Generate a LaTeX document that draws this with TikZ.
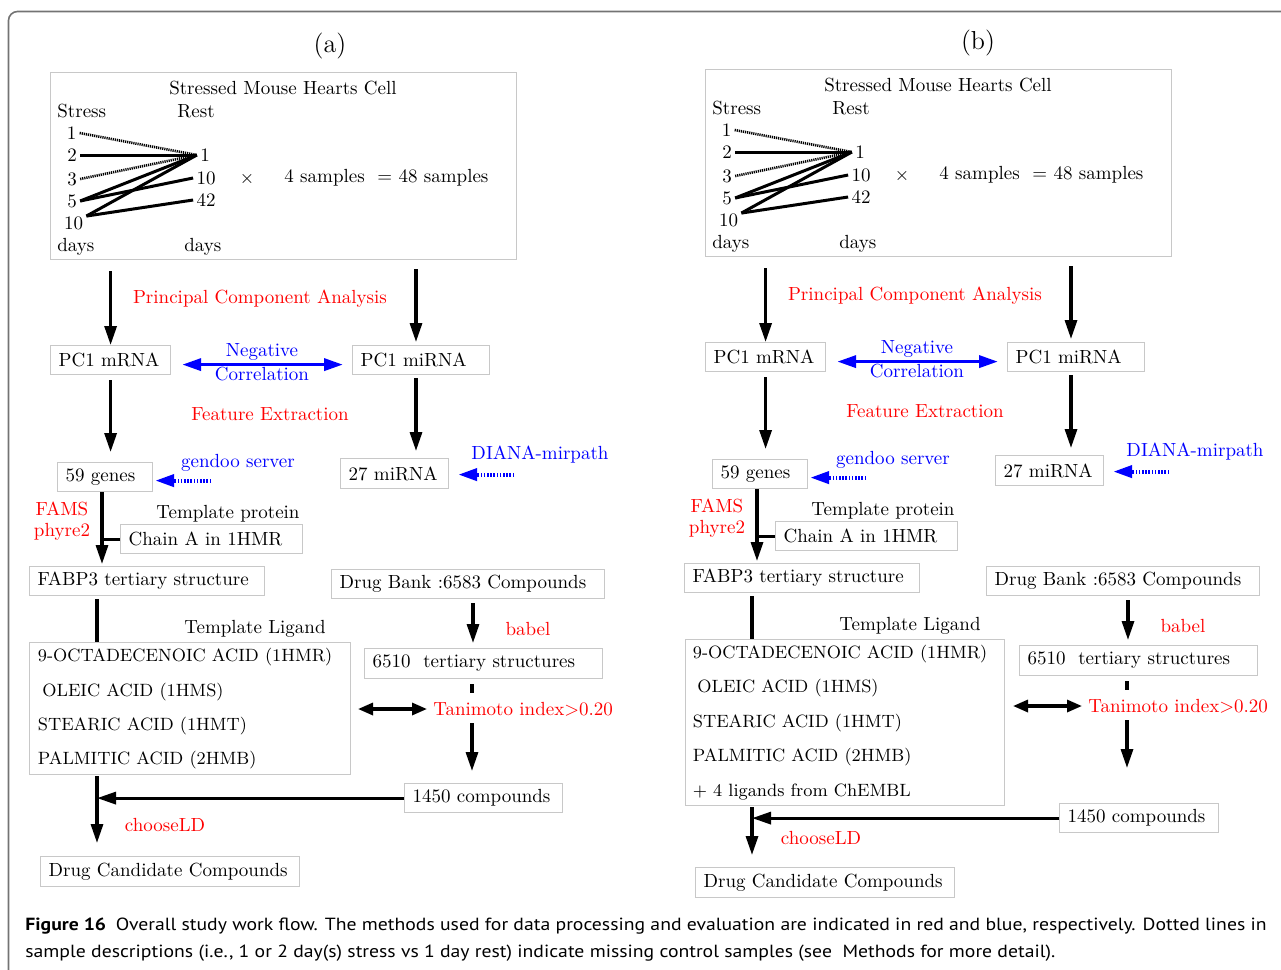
\documentclass[tikz,border=0pt]{standalone}
\usepackage{fontspec}
\newfontfamily\capfont{PT Sans}
\usepackage{xcolor}
\usepackage{tikz}
\usetikzlibrary{arrows.meta, positioning, calc}
\definecolor{boxgray}{RGB}{200,200,200}
\definecolor{framegray}{RGB}{115,115,115}
\definecolor{methodred}{RGB}{255,0,0}
\definecolor{evalblue}{RGB}{0,0,255}
\newcommand\flowfont{\fontsize{9.5}{11.4}\selectfont}

\tikzset{
  box/.style={draw=boxgray, line width=0.6pt, inner xsep=4pt, inner ysep=0pt, minimum height=14.5pt, align=left, anchor=north west, font=\flowfont},
  txt/.style={font=\flowfont, inner sep=0pt},
  ligtxt/.style={txt, font=\fontsize{8.9}{10.7}\selectfont, anchor=west},
  method/.style={txt, text=methodred},
  evaluation/.style={txt, text=evalblue},
  num/.style={font=\flowfont, inner xsep=1.5pt, inner ysep=0pt},
  pair/.style={line width=1.5pt},
  missing/.style={line width=1.3pt, dash pattern=on 0.6pt off 0.45pt},
  stem/.style={line width=1.6pt},
  arr/.style={line width=1.6pt, -{Triangle[length=9.5pt,width=6pt]}},
  corr/.style={evalblue, line width=1.8pt, {Triangle[length=9.5pt,width=6pt]}-{Triangle[length=9.5pt,width=6pt]}},
  simil/.style={line width=1.6pt, {Triangle[length=7.5pt,width=6pt]}-{Triangle[length=7.5pt,width=6pt]}},
  lookup/.style={evalblue, line width=2pt, dash pattern=on 0.8pt off 0.8pt, -{Triangle[length=9.5pt,width=6pt]}},
  caption/.style={anchor=base west, inner sep=0pt, font=\capfont\fontsize{8.8}{10}\selectfont},
}

% upper part of one work flow, #1 = name prefix
\newcommand\flowpanel[1]{%
  % Sample box
  \node[box, minimum width=233pt, minimum height=93.5pt] (#1cell) at (50,72) {};
  \node[txt] (#1title) at (283,88) {Stressed Mouse Hearts Cell};
  \node[txt, anchor=west] (#1stress) at (57,111) {Stress};
  \node[txt, anchor=west] (#1rest) at (177,111) {Rest};
  \node[num] (#1s1) at (71.5,133) {1};
  \node[num] (#1s2) at (72,155) {2};
  \node[num] (#1s3) at (72,179) {3};
  \node[num] (#1s5) at (72,201) {5};
  \node[num] (#1s10) at (73.5,223) {10};
  \node[num] (#1r1) at (205,155) {1};
  \node[num] (#1r10) at (206,178) {10};
  \node[num] (#1r42) at (206,200) {42};
  \node[txt, anchor=west] (#1sdays) at (57,247) {days};
  \node[txt, anchor=west] (#1rdays) at (184,247) {days};
  \node[txt] (#1times) at (247,179) {$\times$};
  \node[txt, anchor=west] (#1total) at (284,178) {4 samples\ \ = 48 samples};
  \draw[missing] (#1s1.east) -- (#1r1.west);
  \draw[pair] (#1s2.east) -- (#1r1.west);
  \draw[missing] (#1s3.east) -- (#1r1.west);
  \draw[pair] (#1s5.east) -- (#1r1.west);
  \draw[pair] (#1s5.east) -- (#1r10.west);
  \draw[pair] (#1s10.north east) -- (#1r1.west);
  \draw[pair] (#1s10.north east) -- (#1r42.west);

  % PCA
  \node[method] (#1pca) at (260,299) {Principal Component Analysis};
  \node[box, text width=52pt] (#1pcm) at (50,345) {PC1 mRNA};
  \node[box, text width=60.5pt] (#1pci) at (352,345) {PC1 miRNA};
  \coordinate (#1miaxis) at (416,345);
  \draw[arr, shorten <=5.5pt] (#1cell.south -| #1pcm.north) -- (#1pcm.north);
  \draw[arr, shorten <=4.5pt, shorten >=1.5pt] (#1cell.south -| #1miaxis) -- (#1miaxis);
  \draw[corr] ([xshift=5.5pt,yshift=-2.25pt]#1pcm.east) -- ([xshift=-4.5pt,yshift=-2.25pt]#1pci.west);
  \node[evaluation] (#1neg) at (262,352) {Negative};
  \node[evaluation] (#1cor) at (262,374) {Correlation};

  % Feature extraction
  \node[method] (#1feat) at (270,414) {Feature Extraction};
  \node[box, text width=39.5pt] (#1genes) at (57,462) {59 genes};
  \node[box, text width=46pt, minimum height=15pt] (#1mirna) at (340,458) {27 miRNA};
  \draw[arr, shorten <=2.5pt, shorten >=5pt] (#1pcm.south) -- (#1pcm.south |- #1genes.north);
  \draw[arr, shorten <=1.5pt, shorten >=3.5pt] (#1pci.south -| #1miaxis) -- (#1mirna.north -| #1miaxis);
  \draw[lookup] ([xshift=29pt,yshift=-1.75pt]#1genes.east) -- ([xshift=1pt,yshift=-1.75pt]#1genes.east);
  \node[evaluation] (#1gendoo) at (238,463) {gendoo server};
  \draw[lookup] ([xshift=32.5pt,yshift=-0.5pt]#1mirna.east) -- ([xshift=4.5pt,yshift=-0.5pt]#1mirna.east);
  \node[evaluation] (#1diana) at (540,455) {DIANA-mirpath};

  % Modelling
  \node[method] (#1fams) at (62,509) {FAMS};
  \node[method] (#1phyre) at (62,532) {phyre2};
  \node[txt] (#1tprot) at (228,514) {Template protein};
  \node[box, text width=83pt] (#1chain) at (120,524) {Chain A in 1HMR};
  \node[box, text width=109.5pt] (#1fabp) at (29,566) {FABP3 tertiary structure};
  \coordinate (#1geneaxis) at (102,491);
  \draw[arr, shorten >=1pt] (#1genes.south -| #1geneaxis) -- (#1fabp.north -| #1geneaxis);
  \draw[stem] (#1chain.west) -- (#1chain.west -| #1geneaxis);
  \coordinate (#1stem) at (97,599);
  \node[txt] (#1tlig) at (255,629) {Template Ligand};

  % Drug Bank
  \node[box, text width=128.5pt] (#1bank) at (331,569) {Drug Bank :6583 Compounds};
  \node[box, text width=111pt, minimum height=15pt] (#1tert) at (364,648) {6510\ \ tertiary structures};
  \coordinate (#1bankaxis) at (473,600);
  \draw[arr, shorten <=2pt, shorten >=2.5pt] (#1bank.south -| #1bankaxis) -- (#1tert.north -| #1bankaxis);
  \node[method] (#1babel) at (528,629) {babel};
  \coordinate (#1dashtop) at (472,684);
  \coordinate (#1dashend) at (472,693);
  \draw[stem] (#1dashtop) -- (#1dashend);
  \node[method, anchor=west] (#1tani) at (433,709) {Tanimoto index>0.20};
  \draw[simil] ([xshift=-37.5pt]#1tani.west) -- ([xshift=-3pt]#1tani.west);
  \coordinate (#1simtop) at (472,723);
  \coordinate (#1simend) at (472,771);
  \draw[arr] (#1simtop) -- (#1simend);
}

\begin{document}
\begin{tikzpicture}[x=0.5pt, y=-0.5pt]
  \useasboundingbox (0,0) rectangle (1281,970);
  % Frame
  \draw[framegray, line width=0.8pt, rounded corners=4.5pt] (8.5,980) -- (8.5,11.5) -- (1290,11.5);

  % Panel (a)
  \node[font=\fontsize{13}{15}\selectfont, inner sep=0pt] (alabel) at (330,46) {(a)};
  \begin{scope}
    \flowpanel{a}
    \node[box, minimum width=160.5pt, minimum height=66pt] (alig) at (29,642) {};
    \node[ligtxt] (alig1) at (37.5,657) {9-OCTADECENOIC ACID (1HMR)};
    \node[ligtxt] (alig2) at (42,692) {OLEIC ACID (1HMS)};
    \node[ligtxt] (alig3) at (37.5,726) {STEARIC ACID (1HMT)};
    \node[ligtxt] (alig4) at (37.5,760) {PALMITIC ACID (2HMB)};
    \draw[stem] (astem) -- (astem |- alig.north);
    \node[box, text width=71pt] (acmp) at (404,783) {1450 compounds};
    \node[box, text width=121.5pt, minimum height=15pt] (acand) at (40,856) {Drug Candidate Compounds};
    \draw[arr] (acmp.west) -- (acmp.west -| astem);
    \draw[arr, shorten <=0.5pt, shorten >=6.5pt] (alig.south -| astem) -- (acand.north -| astem);
    \node[method] (achoose) at (165,825) {chooseLD};
  \end{scope}

  % Panel (b)
  \node[font=\fontsize{13}{15}\selectfont, inner sep=0pt] (blabel) at (978,43) {(b)};
  \begin{scope}[shift={(655,-3)}]
    \flowpanel{b}
    \node[box, minimum width=159.5pt, minimum height=83pt] (blig) at (30,642) {};
    \node[ligtxt] (blig1) at (37.5,657) {9-OCTADECENOIC ACID (1HMR)};
    \node[ligtxt] (blig2) at (42,691) {OLEIC ACID (1HMS)};
    \node[ligtxt] (blig3) at (37.5,726) {STEARIC ACID (1HMT)};
    \node[ligtxt] (blig4) at (37.5,760) {PALMITIC ACID (2HMB)};
    \node[ligtxt] (blig5) at (37.5,795) {+ 4 ligands from ChEMBL};
    \draw[stem] (bstem) -- (bstem |- blig.north);
    \node[box, text width=71.5pt] (bcmp) at (404,806) {1450 compounds};
    \node[box, text width=121.5pt, minimum height=15pt] (bcand) at (40,870) {Drug Candidate Compounds};
    \draw[arr] (bcmp.west) -- (bcmp.west -| bstem);
    \draw[arr, shorten <=0.5pt, shorten >=6pt] (blig.south -| bstem) -- (bcand.north -| bstem);
    \node[method] (bchoose) at (166,841) {chooseLD};
  \end{scope}

  % Caption
  \node[caption] (cap1) at (25,930) {\scalebox{1.12}[1]{\textbf{Figure 16}\hspace{2pt} Overall study work flow. The methods used for data processing and evaluation are indicated in red and blue, respectively. Dotted lines in}};
  \node[caption] (cap2) at (25,957) {\scalebox{1.12}[1]{sample descriptions (i.e., 1 or 2 day(s) stress vs 1 day rest) indicate missing control samples (see\ \ Methods for more detail).}};
\end{tikzpicture}
\end{document}
